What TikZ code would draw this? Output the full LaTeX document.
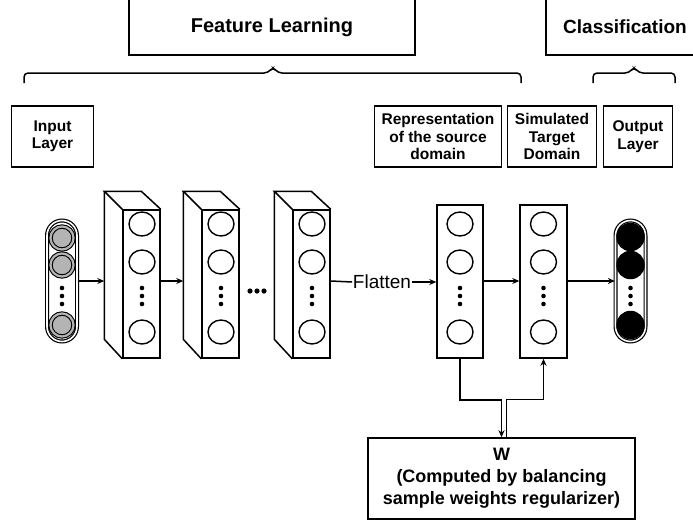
\documentclass[tikz,border=0pt]{standalone}
\usepackage{fontspec}
\setmainfont{Liberation Sans}
\usepackage{xcolor}
\usetikzlibrary{calc, positioning, arrows.meta, shapes.geometric}
\definecolor{ringgray}{RGB}{180,180,180}

\begin{document}
\begin{tikzpicture}[x=1pt,y=-1pt,line width=1.5pt,>={Stealth[length=7pt,width=6pt]},
                    title box/.style={draw,minimum height=56pt,font=\fontsize{19}{22}\selectfont\bfseries},
                    label box/.style={draw,align=center,minimum height=61pt,inner sep=0pt,font=\fontsize{15.5}{17.5}\selectfont\bfseries},
                    layer/.style={draw,minimum width=37pt,minimum height=148pt,inner sep=0pt},
                    neuron/.style={draw,ellipse,minimum width=26pt,minimum height=24pt,inner sep=0pt,line width=1.4pt},
                    pill/.style={draw,rounded corners=15pt,minimum width=30pt,minimum height=121pt,inner sep=0pt,
                                 double,double distance=1.6pt,line width=1.2pt},
                    in neuron/.style={circle,draw,fill=ringgray,double=ringgray,double distance=2.2pt,line width=1.1pt,
                                      minimum size=23pt,inner sep=0pt},
                    out neuron/.style={circle,draw,fill=black,minimum size=27pt,inner sep=0pt}]

  \useasboundingbox (0,0) rectangle (693,525);
  \clip (0,0) rectangle (693,525);

  % titles and braces
  \node[title box,minimum width=286pt,font=\fontsize{20}{22}\selectfont\bfseries] (feat) at (272,27) {Feature Learning};
  \node[title box,minimum width=158pt] (cls) at (625,27) {Classification};

  \draw[rounded corners=4pt] (24,83) -- (24,73) -- (268,73) -- (273,67) -- (278,73) -- (521,73) -- (521,83);
  \draw[rounded corners=4pt] (593,83) -- (593,73) -- (629,73) -- (634,67) -- (639,73) -- (675,73) -- (675,83);

  \node[label box,minimum width=82pt] (inlab) at (52.5,136.5) {Input\\Layer};
  \node[label box,minimum width=127pt] (replab) at (438,136.5) {Representation\\of the source\\domain};
  \node[label box,minimum width=89pt] (simlab) at (552,136.5) {Simulated\\Target\\Domain};
  \node[label box,minimum width=69pt] (outlab) at (638,136.5) {Output\\Layer};

  % input layer
  \node[pill] (in) at (62,281) {};
  \node[in neuron] (in1) at (62,238) {};
  \node[in neuron] (in2) at (62,265) {};
  \node[in neuron] (in3) at (62,325) {};
  \fill (62,288) circle (2.3pt) (62,296) circle (2.3pt) (62,304) circle (2.3pt);

  % hidden layers
  \node[layer] (l1) at (141.5,284) {};
  \draw (l1.north west) -- ++(-18,-18) -- ++(37,0) -- (l1.north east);
  \draw (l1.north west) ++(-18,-18) -- ++(0,148) -- (l1.south west);
  \coordinate (l1back) at ($(l1.west)+(-18,0)$);
  \node[neuron] (l1a) at (142,224) {};
  \node[neuron] (l1b) at (142,262) {};
  \node[neuron] (l1c) at (142,332) {};
  \fill (142,288) circle (2.3pt) (142,296) circle (2.3pt) (142,304) circle (2.3pt);

  \node[layer] (l2) at (220.5,284) {};
  \draw (l2.north west) -- ++(-18,-18) -- ++(37,0) -- (l2.north east);
  \draw (l2.north west) ++(-18,-18) -- ++(0,148) -- (l2.south west);
  \coordinate (l2back) at ($(l2.west)+(-18,0)$);
  \node[neuron] (l2a) at (221,224) {};
  \node[neuron] (l2b) at (221,262) {};
  \node[neuron] (l2c) at (221,332) {};
  \fill (221,288) circle (2.3pt) (221,296) circle (2.3pt) (221,304) circle (2.3pt);

  \fill (250,291) circle (2.6pt) (257,291) circle (2.6pt) (264,291) circle (2.6pt);

  \node[layer] (l3) at (311.5,284) {};
  \draw (l3.north west) -- ++(-18,-18) -- ++(37,0) -- (l3.north east);
  \draw (l3.north west) ++(-18,-18) -- ++(0,148) -- (l3.south west);
  \node[neuron] (l3a) at (312,224) {};
  \node[neuron] (l3b) at (312,262) {};
  \node[neuron] (l3c) at (312,332) {};
  \fill (312,288) circle (2.3pt) (312,296) circle (2.3pt) (312,304) circle (2.3pt);

  \node[inner sep=0pt,font=\fontsize{19}{22}\selectfont] (flat) at (382,282) {Flatten};

  % source and target representations
  \node[layer,minimum width=46pt,minimum height=153pt] (rep) at (460,281.5) {};
  \node[neuron] (repa) at (460,224) {};
  \node[neuron] (repb) at (460,262) {};
  \node[neuron] (repc) at (460,332) {};
  \fill (460,288) circle (2.3pt) (460,296) circle (2.3pt) (460,304) circle (2.3pt);

  \node[layer,minimum width=47pt,minimum height=153pt] (sim) at (543.5,281.5) {};
  \node[neuron] (sima) at (543.5,224) {};
  \node[neuron] (simb) at (543.5,262) {};
  \node[neuron] (simc) at (543.5,332) {};
  \fill (543.5,288) circle (2.3pt) (543.5,296) circle (2.3pt) (543.5,304) circle (2.3pt);

  % output layer
  \node[pill] (out) at (630.5,281) {};
  \node[out neuron] (out1) at (630.5,237) {};
  \node[out neuron] (out2) at (630.5,265) {};
  \node[out neuron] (out3) at (630.5,325) {};
  \fill (630.5,288) circle (2.3pt) (630.5,296) circle (2.3pt) (630.5,304) circle (2.3pt);

  \node[draw,align=center,minimum width=267pt,minimum height=81pt,font=\fontsize{18}{22}\selectfont\bfseries]
    (w) at (501.5,478.5) {W\\(Computed by balancing\\sample weights regularizer)};

  % connections
  \draw[->] (in.east) -- (in.east -| l1back);
  \draw[->] (in.east -| l1.east) -- (in.east -| l2back);
  \draw (in.east -| l3.east) -- (flat.west);
  \draw[->] (flat.east) -- (flat.east -| rep.west);
  \draw[->] (in.east -| rep.east) -- (in.east -| sim.west);
  \draw[->] (in.east -| sim.east) -- (out.west);
  \draw[->] (rep.south) -- ++(0,41) -| (w.north);
  \draw[->] ([xshift=5pt]w.north) -- ++(0,-38) -| (sim.south);

\end{tikzpicture}
\end{document}
